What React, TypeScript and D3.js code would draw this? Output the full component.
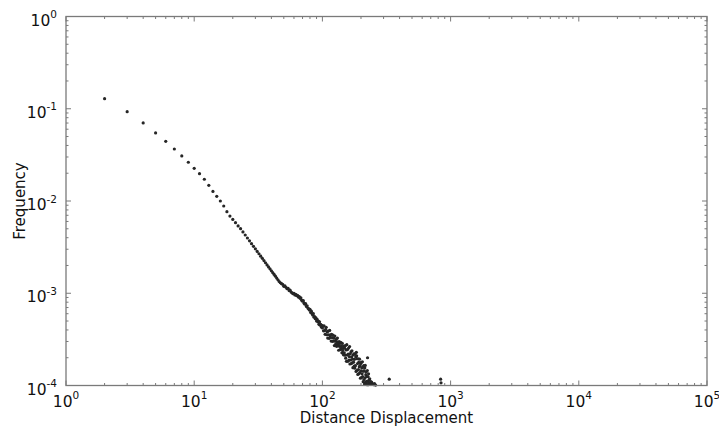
import React from 'react';
import * as d3 from 'd3';

// ---- data ----
const xTickExponents = [0, 1, 2, 3, 4, 5];
const yTickExponents = [0, -1, -2, -3, -4];

const headDistances = [
  2, 3, 4, 5, 6, 7, 8, 9, 10, 11, 12, 13, 14, 15, 16, 17, 18, 19, 20, 21, 22, 23,
  24, 25, 26, 27, 28, 29, 30, 31, 32, 33, 34, 35, 36, 37, 38, 39, 40, 41, 42, 43, 44, 45, 46,
];
const headFrequencies = [
  0.1285, 0.0929, 0.0702, 0.0547, 0.0444, 0.0366, 0.0308, 0.0263, 0.0226, 0.0198, 0.0172,
  0.0148, 0.0127, 0.01125, 0.0100, 0.00883, 0.00766, 0.00687, 0.00631, 0.00582, 0.00537, 0.00501,
  0.00462, 0.00428, 0.00397, 0.00370, 0.00345, 0.00323, 0.00303, 0.00284, 0.00268, 0.00252,
  0.00239, 0.00226, 0.00214, 0.00203, 0.00193, 0.00184, 0.00175, 0.00167, 0.00160, 0.00153,
  0.00146, 0.00140, 0.00134,
];

const midDistances = [
  47, 48, 49, 50, 51, 52, 53, 54, 55, 56, 57, 58, 59, 60, 61, 62, 63, 64, 65, 66, 67, 68, 69,
  70, 71, 72, 73, 74, 75, 76, 77, 78, 79, 80, 81, 82, 83, 84, 85, 86, 87, 88, 89, 90, 91, 92,
  93, 94, 95, 96, 97, 98, 99, 100,
];
const midFrequencies = [
  0.00130, 0.00127, 0.00125, 0.00119, 0.00120, 0.00116, 0.00112, 0.00113, 0.00107, 0.00108,
  0.00103, 0.00101, 0.00099, 0.00100, 0.00096, 0.00097, 0.00094, 0.00095, 0.00091, 0.00092,
  0.00088, 0.00089, 0.00084, 0.00082, 0.00083, 0.00078, 0.00076, 0.00077, 0.00072, 0.00073,
  0.00069, 0.00068, 0.00066, 0.00067, 0.00062, 0.00064, 0.00060, 0.00058, 0.00060, 0.00055,
  0.00056, 0.00053, 0.00054, 0.00050, 0.00052, 0.00049, 0.00050, 0.00046, 0.00049, 0.00045,
  0.00046, 0.00043, 0.00045, 0.00042,
];

const tailDistances = [
  101, 102, 103, 104, 105, 106, 107, 108, 109, 110, 111, 112, 113, 114, 115, 116, 117, 118, 119,
  120, 121, 122, 123, 124, 125, 126, 127, 128, 129, 130, 131, 132, 133, 134, 135, 136, 137, 138,
  139, 140, 141, 142, 143, 144, 145, 146, 147, 148, 149, 150, 151, 152, 153, 154, 155, 156, 157,
  158, 159, 160, 161, 162, 163, 164, 165, 166, 167, 168, 169, 170, 171, 172, 173, 174, 175, 176,
  177, 178, 179, 180, 181, 182, 183, 184, 185, 186, 187, 188, 189, 190, 191, 192, 193, 194, 195,
  196, 197, 198, 199, 200, 201, 202, 203, 204, 205, 206, 207, 208, 209, 210, 211, 212, 213, 214,
  215, 216, 217, 218, 219, 220, 221, 222, 223, 224, 225, 226, 227, 228, 229, 230, 231, 233, 234,
  236, 238, 240, 242, 245, 248, 252, 255, 260, 332, 836, 842,
];
const tailFrequencies = [
  4.40e-4, 3.91e-4, 4.43e-4, 3.92e-4, 3.59e-4, 4.05e-4, 4.27e-4, 3.55e-4, 3.81e-4, 3.27e-4,
  3.89e-4, 3.55e-4, 3.25e-4, 3.95e-4, 3.34e-4, 3.54e-4, 3.03e-4, 3.58e-4, 3.31e-4, 3.01e-4,
  3.52e-4, 3.04e-4, 3.29e-4, 2.71e-4, 3.43e-4, 3.02e-4, 2.81e-4, 3.17e-4, 2.66e-4, 2.98e-4,
  3.27e-4, 2.69e-4, 2.83e-4, 2.41e-4, 2.99e-4, 2.66e-4, 2.86e-4, 2.45e-4, 2.94e-4, 2.52e-4,
  2.68e-4, 2.26e-4, 2.86e-4, 2.39e-4, 2.53e-4, 2.15e-4, 2.67e-4, 2.26e-4, 2.54e-4, 2.13e-4,
  2.70e-4, 1.98e-4, 2.43e-4, 1.83e-4, 2.77e-4, 2.14e-4, 2.45e-4, 1.83e-4, 2.19e-4, 2.55e-4,
  1.88e-4, 2.06e-4, 2.64e-4, 1.71e-4, 2.21e-4, 1.89e-4, 2.31e-4, 1.73e-4, 2.04e-4, 2.38e-4,
  1.76e-4, 1.93e-4, 1.56e-4, 2.14e-4, 1.79e-4, 2.20e-4, 1.62e-4, 1.92e-4, 1.54e-4, 2.20e-4,
  1.64e-4, 2.05e-4, 1.42e-4, 2.29e-4, 2.10e-4, 1.95e-4, 1.46e-4, 1.73e-4, 1.32e-4, 1.95e-4,
  1.49e-4, 1.78e-4, 1.34e-4, 1.60e-4, 1.93e-4, 1.38e-4, 1.64e-4, 1.20e-4, 1.73e-4, 1.44e-4,
  1.78e-4, 1.22e-4, 1.55e-4, 1.34e-4, 1.81e-4, 1.25e-4, 1.58e-4, 1.10e-4, 1.43e-4, 1.64e-4,
  1.16e-4, 1.44e-4, 1.04e-4, 1.55e-4, 1.21e-4, 1.65e-4, 1.08e-4, 1.31e-4, 1.03e-4, 1.41e-4,
  1.11e-4, 1.25e-4, 1.02e-4, 1.45e-4, 2.00e-4, 1.11e-4, 1.25e-4, 1.02e-4, 1.34e-4, 1.07e-4,
  1.15e-4, 1.04e-4, 1.18e-4, 1.06e-4, 1.10e-4, 1.04e-4, 1.09e-4, 1.03e-4, 1.04e-4, 1.02e-4,
  1.05e-4, 1.01e-4, 1.17e-4, 1.17e-4, 1.07e-4,
];

const xLabel = 'Distance Displacement';
const yLabel = 'Frequency';

// ---- layout ----
const W = 719;
const H = 429;
const left = 66;
const right = 707;
const top = 16.5;
const bottom = 385.5;

const FONT = 'DejaVu Sans, sans-serif';
const AXIS = '#7a7a7a';

const expText = (e: number) => (e < 0 ? '-' + Math.abs(e) : String(e));

export default function App() {
  const x = d3.scaleLog().domain([1, 1e5]).range([left, right]);
  const y = d3.scaleLog().domain([1e-4, 1]).range([bottom, top]);

  const points = [
    ...headDistances.map((d, i) => [d, headFrequencies[i]]),
    ...midDistances.map((d, i) => [d, midFrequencies[i]]),
    ...tailDistances.map((d, i) => [d, tailFrequencies[i]]),
  ] as [number, number][];

  const xMinor = x.ticks().filter((t) => !xTickExponents.some((e) => Math.abs(Math.log10(t) - e) < 1e-9));
  const yMinor = y.ticks().filter((t) => !yTickExponents.some((e) => Math.abs(Math.log10(t) - e) < 1e-9));

  const majLen = 5;
  const minLen = 2.5;

  return (
    <svg
      width={W}
      height={H}
      style={{ position: 'absolute', left: 0, top: 0, background: '#fff' }}
      fontFamily={FONT}
    >
      <rect x={0} y={0} width={W} height={H} fill="#fff" />
      <defs>
        <clipPath id="plotclip">
          <rect x={left - 2} y={top - 2} width={right - left + 4} height={bottom - top + 4} />
        </clipPath>
      </defs>

      {/* points */}
      <g clipPath="url(#plotclip)">
        {points.map(([d, f], i) => (
          <circle key={i} cx={x(d)} cy={y(f)} r={1.6} fill="#262626" />
        ))}
      </g>

      {/* ticks */}
      <g stroke={AXIS} strokeWidth={1}>
        {xTickExponents.map((e) => {
          const px = x(Math.pow(10, e));
          return (
            <g key={'xM' + e}>
              <line x1={px} x2={px} y1={bottom} y2={bottom - majLen} />
              <line x1={px} x2={px} y1={top} y2={top + majLen} />
            </g>
          );
        })}
        {xMinor.map((t, i) => {
          const px = x(t);
          return (
            <g key={'xm' + i}>
              <line x1={px} x2={px} y1={bottom} y2={bottom - minLen} />
              <line x1={px} x2={px} y1={top} y2={top + minLen} />
            </g>
          );
        })}
        {yTickExponents.map((e) => {
          const py = y(Math.pow(10, e));
          return (
            <g key={'yM' + e}>
              <line x1={left} x2={left + majLen} y1={py} y2={py} />
              <line x1={right} x2={right - majLen} y1={py} y2={py} />
            </g>
          );
        })}
        {yMinor.map((t, i) => {
          const py = y(t);
          return (
            <g key={'ym' + i}>
              <line x1={left} x2={left + minLen} y1={py} y2={py} />
              <line x1={right} x2={right - minLen} y1={py} y2={py} />
            </g>
          );
        })}
      </g>

      {/* frame */}
      <rect x={left} y={top} width={right - left} height={bottom - top} fill="none" stroke={AXIS} strokeWidth={1.3} />

      {/* x tick labels */}
      {xTickExponents.map((e) => (
        <text key={'xl' + e} x={x(Math.pow(10, e))} y={406.5} textAnchor="middle" fontSize={15.5} fill="#111">
          <tspan>10</tspan>
          <tspan dy={-7.5} fontSize={10.5}>{expText(e)}</tspan>
        </text>
      ))}

      {/* y tick labels */}
      {yTickExponents.map((e) => (
        <text key={'yl' + e} x={57} y={y(Math.pow(10, e)) + 9.2} textAnchor="end" fontSize={15.5} fill="#111">
          <tspan>10</tspan>
          <tspan dy={-7.5} fontSize={10.5}>{expText(e)}</tspan>
        </text>
      ))}

      {/* axis titles */}
      <text x={(left + right) / 2} y={422.5} textAnchor="middle" fontSize={15} fill="#111">
        {xLabel}
      </text>
      <text
        transform={`translate(24.5, ${(top + bottom) / 2}) rotate(-90)`}
        textAnchor="middle"
        fontSize={15}
        fill="#111"
      >
        {yLabel}
      </text>
    </svg>
  );
}
